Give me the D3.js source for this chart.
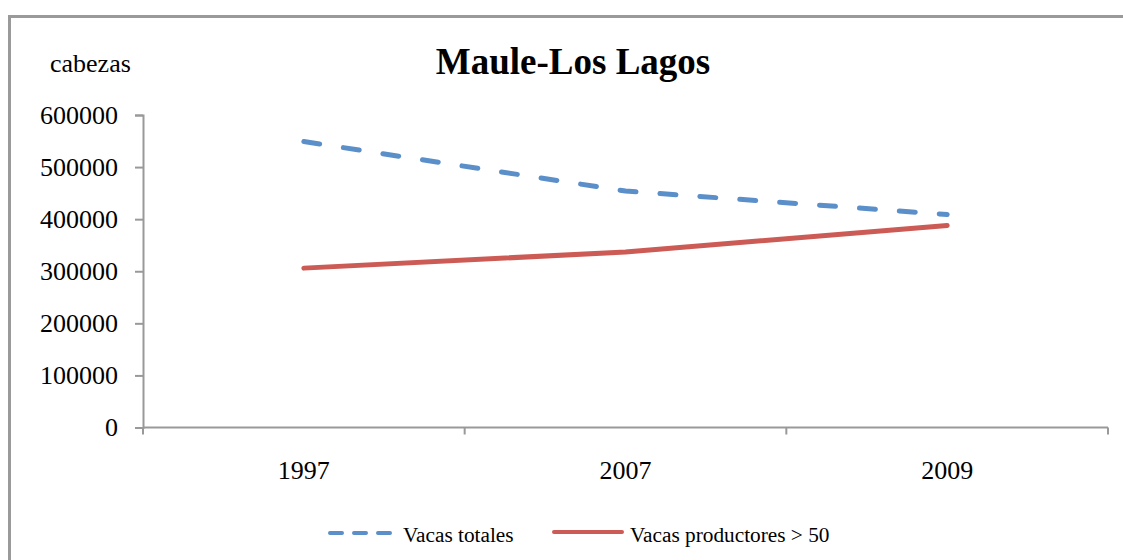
<!DOCTYPE html>
<html>
<head>
<meta charset="utf-8">
<script src="https://cdn.jsdelivr.net/npm/d3@7"></script>
<style>
  html, body { margin: 0; padding: 0; background: #fff; }
  svg { display: block; font-family: "Liberation Serif", "Times New Roman", serif; }
</style>
</head>
<body>
<svg id="chart" width="1123" height="560"></svg>
<script>
const categories = ["1997", "2007", "2009"];
const vacasTotales = [549000, 454000, 409000];
const vacasProductores = [306000, 337000, 388000];
const yTicks = [0, 100000, 200000, 300000, 400000, 500000, 600000];
const seriesNames = ["Vacas totales", "Vacas productores > 50"];
const seriesColors = ["#5B8FC9", "#CC5B55"];

(function () {
const FONT = "'Liberation Serif', 'Times New Roman', serif";
const svg = d3.select("#chart");

// outer frame
svg.append("rect")
  .attr("x", 9.5).attr("y", 16.5)
  .attr("width", 1123).attr("height", 560)
  .attr("fill", "none").attr("stroke", "#9a9a9a").attr("stroke-width", 3);

const pLeft = 143, pRight = 1108, pTop = 115, pBottom = 427.5;

const x = d3.scaleBand().domain(categories).range([pLeft, pRight]).paddingInner(0).paddingOuter(0);
const y = d3.scaleLinear().domain([0, 600000]).range([pBottom, pTop]);

// y axis
const yAxis = svg.append("g").attr("transform", `translate(${pLeft},0)`)
  .call(d3.axisLeft(y).tickValues(yTicks).tickFormat(d3.format("d")).tickSize(8).tickPadding(17))
  .attr("font-family", FONT).attr("font-size", 26);
yAxis.select(".domain").attr("stroke", "#999").attr("stroke-width", 2);
yAxis.selectAll(".tick line").attr("stroke", "#999").attr("stroke-width", 2);
yAxis.selectAll(".tick text").attr("fill", "#000");

// x axis
const xAxis = svg.append("g").attr("transform", `translate(0,${pBottom})`)
  .call(d3.axisBottom(x).tickSize(0).tickPadding(0))
  .attr("font-family", FONT).attr("font-size", 26);
xAxis.select(".domain").remove();
xAxis.selectAll(".tick").remove();
xAxis.append("line").attr("x1", pLeft).attr("x2", pRight).attr("y1", 0).attr("y2", 0)
  .attr("stroke", "#999").attr("stroke-width", 2);
const bounds = categories.map(c => x(c)).concat([pRight]);
xAxis.selectAll("line.xt").data(bounds).join("line").attr("class", "xt")
  .attr("x1", d => d).attr("x2", d => d).attr("y1", 0).attr("y2", 7)
  .attr("stroke", "#999").attr("stroke-width", 2);
xAxis.selectAll("text.xl").data(categories).join("text").attr("class", "xl")
  .attr("x", d => x(d) + x.bandwidth() / 2).attr("y", 51)
  .attr("text-anchor", "middle").attr("fill", "#000")
  .text(d => d);

// lines
const line = d3.line().x((d, i) => x(categories[i]) + x.bandwidth() / 2).y(d => y(d));
svg.append("path").datum(vacasTotales).attr("d", line)
  .attr("fill", "none").attr("stroke", seriesColors[0]).attr("stroke-width", 5)
  .attr("stroke-linecap", "round").attr("stroke-dasharray", "16 24");
svg.append("path").datum(vacasProductores).attr("d", line)
  .attr("fill", "none").attr("stroke", seriesColors[1]).attr("stroke-width", 5)
  .attr("stroke-linecap", "round");

// title
svg.append("text").attr("x", 573).attr("y", 74).attr("text-anchor", "middle")
  .attr("font-size", 37).attr("font-weight", "bold").attr("fill", "#000")
  .text("Maule-Los Lagos");
svg.append("text").attr("x", 50).attr("y", 72).attr("font-size", 26).attr("fill", "#000")
  .text("cabezas");

// legend
const lg = svg.append("g").attr("font-size", 21.3);
lg.append("line").attr("x1", 330).attr("x2", 393).attr("y1", 533).attr("y2", 533)
  .attr("stroke", seriesColors[0]).attr("stroke-width", 4).attr("stroke-linecap", "round")
  .attr("stroke-dasharray", "12 12");
lg.append("text").attr("x", 403).attr("y", 541.5).attr("fill", "#000").text(seriesNames[0]);
lg.append("line").attr("x1", 554).attr("x2", 622).attr("y1", 532).attr("y2", 532)
  .attr("stroke", seriesColors[1]).attr("stroke-width", 4).attr("stroke-linecap", "round");
lg.append("text").attr("x", 630).attr("y", 541.5).attr("fill", "#000").text(seriesNames[1]);
})();
</script>
</body>
</html>
